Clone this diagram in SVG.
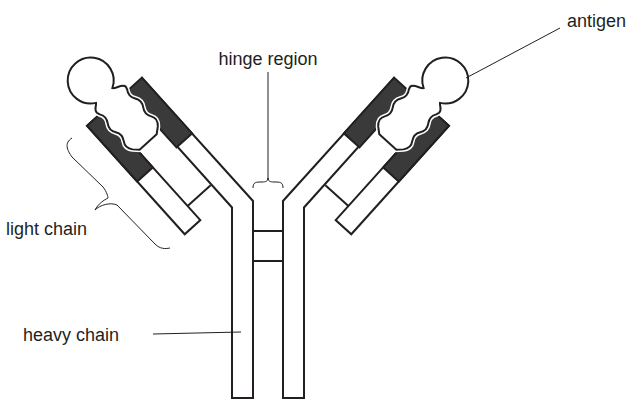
<svg xmlns="http://www.w3.org/2000/svg" width="644" height="405" viewBox="0 0 644 405">
<style>
.o{fill:#fff;stroke:#231f20;stroke-width:2;stroke-linejoin:miter}
.d{fill:#3a3a3a;stroke:#231f20;stroke-width:2}
.l{fill:none;stroke:#231f20;stroke-width:1}
.t{font-family:"Liberation Sans",Arial,sans-serif;font-size:18px;fill:#231f20}
.ag{fill:#fff;stroke:#231f20;stroke-width:2}
.agw{fill:none;stroke:#fff;stroke-width:5}
</style>
<defs>
<g id="arm">
<rect class="o" x="21" y="52" width="146" height="21"/>
<rect class="d" x="92" y="52" width="75" height="21"/>
<line class="o" x1="40" y1="21" x2="40" y2="52"/>
<rect class="d" x="91" y="0" width="75" height="21"/>
<path id="agp" d="M114,27 L119,21 Q125,15 131,19 Q137,23 143,19 Q149,15 155,19 Q161,23 167,19 L170,18 C175,18 175,27 178,29 A23 23 0 1 1 178,51 C175,53 175,57 170,57 L167,56 Q161,52 155,56 Q149,60 143,56 Q137,52 131,56 Q125,60 119,55 L114,50 Z" class="agw"/>
<path d="M114,27 L119,21 Q125,15 131,19 Q137,23 143,19 Q149,15 155,19 Q161,23 167,19 L170,18 C175,18 175,27 178,29 A23 23 0 1 1 178,51 C175,53 175,57 170,57 L167,56 Q161,52 155,56 Q149,60 143,56 Q137,52 131,56 Q125,60 119,55 L114,50 Z" class="ag"/>
</g>
</defs>
<g id="heavy-left">
<path class="o" d="M232,398 L232,207.5 L130,94 L142,78 L253,201 L253,398 Z" transform="translate(0,0)"/>
</g>
<g id="heavy-right">
<path class="o" d="M304,398 L304,207.5 L406,94 L394,78 L283,201 L283,398 Z"/>
</g>
<g id="hinge">
<rect class="o" x="253" y="231" width="30" height="30"/>
</g>
<g id="arm-left" transform="matrix(-0.669,-0.743,-0.743,0.669,253,201)">
<use href="#arm"/>
</g>
<g id="arm-right" transform="matrix(0.669,-0.743,0.743,0.669,283,201)">
<use href="#arm"/>
</g>
<g id="connectors">
<line class="l" x1="268" y1="72" x2="268" y2="180"/>
<path class="l" d="M253,188 C253,182 256,182 262,182 C266,182 268,181 268,178 C268,181 270,182 274,182 C280,182 283,182 283,188"/>
<path class="l" d="M72,138 C64,143 67,150 72,157 L103,187 C107,192 108,197 108,198 C104,200 98,204 95,210 C100,205 110,202 117,205 L155,244 C160,249 165,249 170,248"/>
<line class="l" x1="560" y1="28" x2="466" y2="78"/>
<line class="l" x1="153" y1="334" x2="241" y2="332"/>
</g>
<g id="labels">
<text class="t" x="268" y="65" text-anchor="middle">hinge region</text>
<text class="t" x="567" y="27">antigen</text>
<text class="t" x="6" y="235">light chain</text>
<text class="t" x="23" y="341">heavy chain</text>
</g>
</svg>
